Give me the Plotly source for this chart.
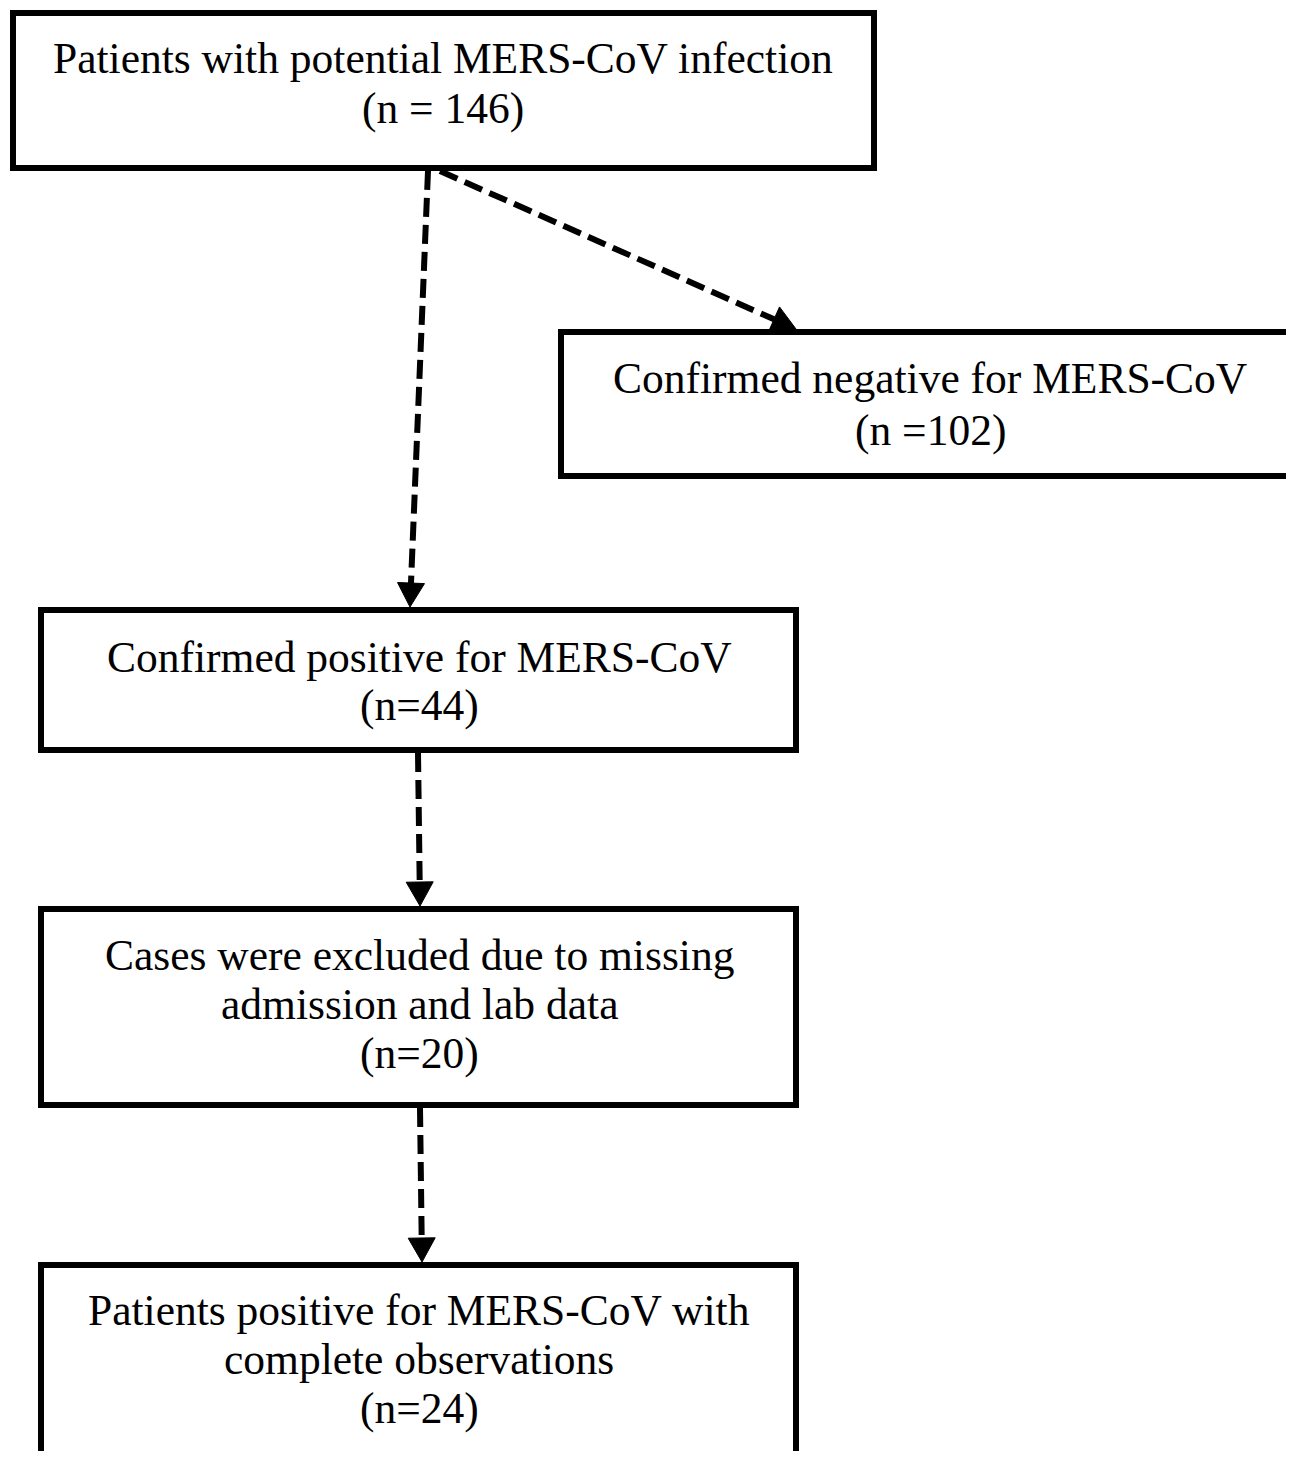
import math
import plotly.graph_objects as go

# ---- content ----
box_lines = [
    ["Patients with potential MERS-CoV infection", "(n = 146)"],
    ["Confirmed negative for MERS-CoV", "(n =102)"],
    ["Confirmed positive for MERS-CoV", "(n=44)"],
    ["Cases were excluded due to missing", "admission and lab data", "(n=20)"],
    ["Patients positive for MERS-CoV with", "complete observations", "(n=24)"],
]
counts = [146, 102, 44, 20, 24]

# ---- layout (page pixel coordinates, y downward) ----
W, H = 1294, 1459
OFF = 8  # default page body margin
box_x0 = [13, 561, 41, 41, 41]
box_x1 = [874, 1320, 796, 796, 796]
box_y0 = [13, 332, 610, 909, 1265]
box_y1 = [168, 476, 750, 1105, 1530]
text_cx = [443, 930, 419, 419, 419]
line_y = [
    [58, 108],
    [378, 430],
    [657, 705],
    [955, 1004, 1053],
    [1310, 1359, 1408],
]
# edges: (from x, from y, to x, to y)
edges = [
    (428, 171, 410, 607),
    (440, 171, 796, 329),
    (418, 753, 420, 906),
    (420, 1108, 422, 1262),
]

fig = go.Figure()
shapes = []
for i in range(len(box_lines)):
    shapes.append(dict(type="rect", xref="x", yref="y",
                       x0=box_x0[i], x1=box_x1[i], y0=box_y0[i], y1=box_y1[i],
                       line=dict(color="black", width=6), fillcolor="white", layer="below"))

head_len, head_w = 24, 27
for (xa, ya, xb, yb) in edges:
    dx, dy = xb - xa, yb - ya
    L = math.hypot(dx, dy)
    ux, uy = dx / L, dy / L
    bx, by = xb - ux * head_len, yb - uy * head_len
    px, py = -uy, ux
    shapes.append(dict(type="line", xref="x", yref="y", x0=xa, y0=ya, x1=bx, y1=by,
                       line=dict(color="black", width=6, dash="19px,8px")))
    path = "M {:.1f} {:.1f} L {:.1f} {:.1f} L {:.1f} {:.1f} Z".format(
        xb, yb, bx + px * head_w / 2, by + py * head_w / 2, bx - px * head_w / 2, by - py * head_w / 2)
    shapes.append(dict(type="path", xref="x", yref="y", path=path,
                       fillcolor="black", line=dict(color="black", width=1)))

annotations = []
for i, lines in enumerate(box_lines):
    for j, txt in enumerate(lines):
        annotations.append(dict(x=text_cx[i], y=line_y[i][j], xref="x", yref="y", text=txt,
                                showarrow=False,
                                font=dict(family="Liberation Serif", size=43.5, color="black"),
                                xanchor="center", yanchor="middle"))

fig_w = W - OFF
fig_h = H - 2 * OFF
fig.update_layout(
    width=fig_w, height=fig_h, margin=dict(l=0, r=0, t=0, b=0),
    paper_bgcolor="white", plot_bgcolor="white",
    shapes=shapes, annotations=annotations, showlegend=False,
    xaxis=dict(range=[OFF, OFF + fig_w], visible=False, fixedrange=True),
    yaxis=dict(range=[OFF + fig_h, OFF], visible=False, fixedrange=True),
)
fig.write_html("out.html")
